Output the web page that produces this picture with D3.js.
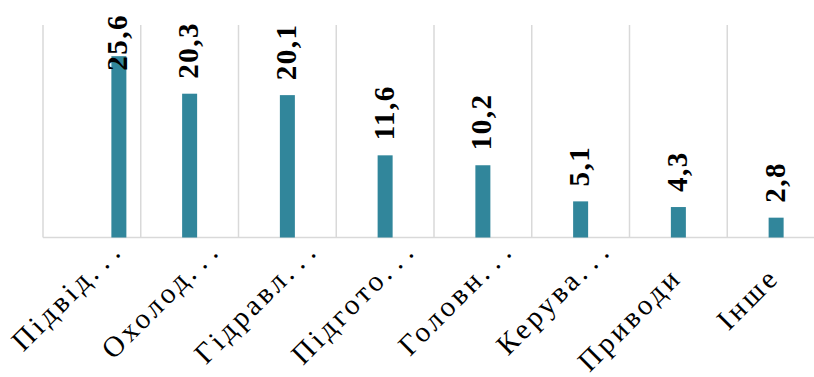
<!DOCTYPE html>
<html><head><meta charset="utf-8">
<script src="https://cdn.jsdelivr.net/npm/d3@7"></script>
<style>html,body{margin:0;padding:0;background:#fff;overflow:hidden}</style>
</head><body>
<svg id="chart" width="814" height="377"></svg>
<script>
const categories = ["Підвід", "Охолод", "Гідравл", "Підгото", "Головн", "Керува", "Приводи", "Інше"];
const truncated = [true, true, true, true, true, true, false, false];
const values = [25.6, 20.3, 20.1, 11.6, 10.2, 5.1, 4.3, 2.8];
const valueLabels = ["25,6", "20,3", "20,1", "11,6", "10,2", "5,1", "4,3", "2,8"];
const barShift = [27, 0, 0, 0, 0, 0, 0, 0];
const yDomain = [0, 30];

const svg = d3.select("#chart");
const left = 43, bandW = 97.75;
const x = d3.scaleBand().domain(categories).range([left, left + bandW * categories.length]).padding(0);
const y = d3.scaleLinear().domain(yDomain).range([237.5, 25]);

const edges = d3.range(categories.length + 1).map(i => left + i * x.step());
svg.append("g").selectAll("line").data(edges).join("line")
  .attr("x1", d => d).attr("x2", d => d)
  .attr("y1", y(yDomain[1])).attr("y2", y(0))
  .attr("stroke", "#d9d9d9").attr("stroke-width", 1.5);

svg.append("line").attr("x1", left).attr("x2", 814).attr("y1", y(0)).attr("y2", y(0))
  .attr("stroke", "#d9d9d9").attr("stroke-width", 1.5);

const bw = 15;
const cx = i => x(categories[i]) + x.bandwidth() / 2 + barShift[i];

svg.append("g").selectAll("rect").data(values).join("rect")
  .attr("x", (d, i) => cx(i) - bw / 2)
  .attr("y", d => y(d))
  .attr("width", bw)
  .attr("height", d => y(0) - y(d))
  .attr("fill", "#31869b");

const vl = svg.append("g").selectAll("text").data(values).join("text")
  .attr("text-anchor", "start")
  .style("font-family", "'Liberation Serif','Times New Roman',serif")
  .style("font-weight", "bold")
  .style("font-size", "29px")
  .style("letter-spacing", "1.5px")
  .attr("fill", "#000")
  .text((d, i) => valueLabels[i]);
vl.attr("transform", function(d, i) {
  const len = this.getComputedTextLength();
  let bottom = y(d) - 15;
  if (bottom - len < 14) bottom = 14 + len;
  return `translate(${cx(i) + 8.5},${bottom}) rotate(-90)`;
});

const cl = svg.append("g").selectAll("text").data(categories).join("text")
  .attr("transform", d => `translate(${x(d) + x.bandwidth() / 2 + 5},279) rotate(-45)`)
  .attr("dx", (d, i) => truncated[i] ? 43 : 0)
  .attr("text-anchor", "end")
  .style("font-family", "'Liberation Serif','Times New Roman',serif")
  .style("font-size", "29px")
  .style("letter-spacing", "3.5px")
  .attr("fill", "#000");
cl.append("tspan").text(d => d);
cl.filter((d, i) => truncated[i]).append("tspan")
  .style("letter-spacing", "8px")
  .text("...");
</script>
</body></html>
